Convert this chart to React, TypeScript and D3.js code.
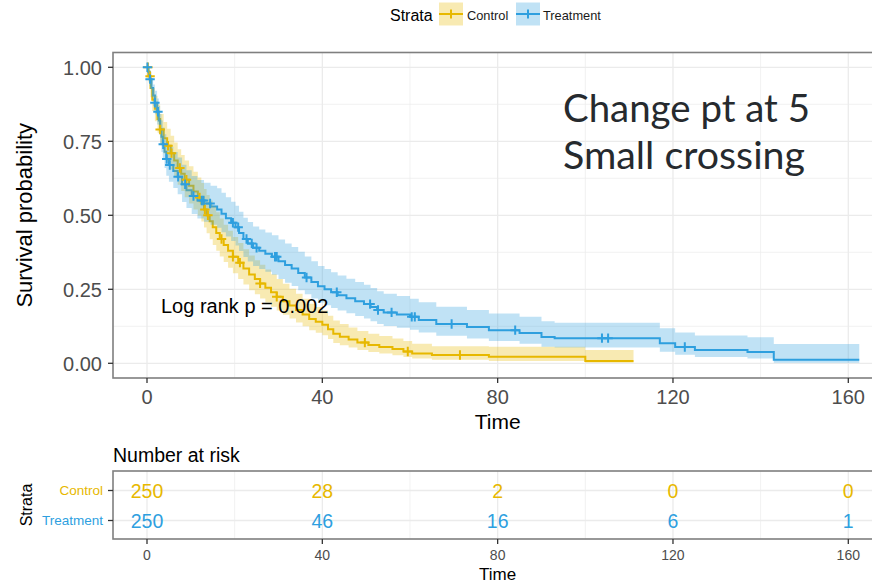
import React from "react";
import * as d3 from "d3";

const W = 872;
const H = 584;
const FONT = "'Liberation Sans', Arial, Helvetica, sans-serif";

// Kaplan–Meier steps: [time, survival, lower 95% CI, upper 95% CI]
const controlSteps: [number, number, number, number][] = [
  [0, 1.0, 1.0, 1.0],
  [0.3, 0.97, 0.949, 0.991],
  [0.8, 0.93, 0.899, 0.962],
  [1.2, 0.89, 0.852, 0.93],
  [1.8, 0.86, 0.818, 0.904],
  [2.4, 0.825, 0.779, 0.874],
  [3.0, 0.79, 0.741, 0.842],
  [3.8, 0.76, 0.709, 0.815],
  [4.6, 0.735, 0.682, 0.792],
  [5.4, 0.71, 0.655, 0.769],
  [6.2, 0.685, 0.629, 0.746],
  [7.0, 0.66, 0.603, 0.723],
  [7.8, 0.64, 0.582, 0.704],
  [8.6, 0.62, 0.561, 0.685],
  [9.6, 0.6, 0.54, 0.666],
  [10.6, 0.58, 0.52, 0.647],
  [11.6, 0.56, 0.499, 0.628],
  [12.4, 0.54, 0.479, 0.609],
  [13.0, 0.52, 0.459, 0.589],
  [13.6, 0.5, 0.439, 0.569],
  [14.3, 0.48, 0.419, 0.55],
  [15.0, 0.46, 0.4, 0.53],
  [15.8, 0.44, 0.38, 0.51],
  [16.6, 0.42, 0.361, 0.489],
  [17.5, 0.4, 0.342, 0.468],
  [18.5, 0.38, 0.323, 0.448],
  [19.6, 0.36, 0.304, 0.427],
  [20.8, 0.34, 0.285, 0.406],
  [22.0, 0.32, 0.266, 0.385],
  [23.3, 0.3, 0.247, 0.364],
  [24.6, 0.285, 0.233, 0.348],
  [25.8, 0.27, 0.219, 0.333],
  [27.0, 0.255, 0.205, 0.317],
  [28.3, 0.24, 0.191, 0.301],
  [29.6, 0.225, 0.178, 0.285],
  [31.0, 0.21, 0.164, 0.269],
  [32.5, 0.195, 0.151, 0.252],
  [34.0, 0.18, 0.138, 0.235],
  [35.5, 0.165, 0.125, 0.218],
  [37.0, 0.15, 0.112, 0.201],
  [38.5, 0.14, 0.103, 0.19],
  [40.0, 0.13, 0.095, 0.178],
  [41.3, 0.115, 0.082, 0.161],
  [42.5, 0.1, 0.069, 0.145],
  [44.0, 0.09, 0.061, 0.133],
  [46.0, 0.08, 0.053, 0.121],
  [48.0, 0.07, 0.045, 0.109],
  [50.5, 0.062, 0.038, 0.1],
  [53.0, 0.055, 0.033, 0.092],
  [56.0, 0.048, 0.027, 0.084],
  [58.5, 0.04, 0.021, 0.075],
  [60.5, 0.033, 0.016, 0.066],
  [65.0, 0.028, 0.012, 0.058],
  [78.0, 0.022, 0.008, 0.056],
  [100.0, 0.008, 0.002, 0.045],
];
const controlEnd = 111;

const treatmentSteps: [number, number, number, number][] = [
  [0, 1.0, 1.0, 1.0],
  [0.3, 0.985, 0.97, 1.0],
  [0.6, 0.96, 0.936, 0.985],
  [1.0, 0.93, 0.899, 0.962],
  [1.4, 0.905, 0.869, 0.942],
  [1.8, 0.88, 0.841, 0.921],
  [2.3, 0.85, 0.807, 0.895],
  [2.7, 0.82, 0.774, 0.869],
  [3.0, 0.79, 0.741, 0.842],
  [3.3, 0.765, 0.714, 0.82],
  [3.6, 0.74, 0.687, 0.797],
  [4.0, 0.715, 0.66, 0.774],
  [4.4, 0.69, 0.634, 0.751],
  [5.0, 0.67, 0.613, 0.732],
  [6.0, 0.65, 0.592, 0.714],
  [7.0, 0.63, 0.571, 0.695],
  [8.0, 0.605, 0.545, 0.671],
  [9.0, 0.585, 0.525, 0.652],
  [10.2, 0.565, 0.504, 0.633],
  [11.5, 0.55, 0.489, 0.619],
  [13.0, 0.54, 0.478, 0.61],
  [14.5, 0.53, 0.468, 0.6],
  [16.0, 0.52, 0.458, 0.591],
  [17.0, 0.505, 0.443, 0.576],
  [18.0, 0.49, 0.428, 0.561],
  [19.2, 0.475, 0.413, 0.546],
  [20.2, 0.46, 0.398, 0.532],
  [21.0, 0.44, 0.379, 0.512],
  [22.0, 0.42, 0.359, 0.492],
  [23.0, 0.405, 0.344, 0.477],
  [24.2, 0.39, 0.329, 0.462],
  [25.6, 0.38, 0.319, 0.452],
  [27.0, 0.37, 0.309, 0.442],
  [28.5, 0.36, 0.299, 0.433],
  [30.0, 0.345, 0.285, 0.418],
  [31.5, 0.332, 0.272, 0.405],
  [33.0, 0.32, 0.261, 0.393],
  [34.5, 0.305, 0.247, 0.377],
  [36.0, 0.29, 0.233, 0.361],
  [37.5, 0.275, 0.219, 0.345],
  [39.0, 0.26, 0.205, 0.329],
  [40.5, 0.25, 0.196, 0.319],
  [42.0, 0.24, 0.187, 0.308],
  [43.5, 0.23, 0.178, 0.297],
  [45.5, 0.22, 0.169, 0.286],
  [47.5, 0.21, 0.16, 0.275],
  [49.5, 0.2, 0.151, 0.265],
  [51.0, 0.19, 0.142, 0.254],
  [52.5, 0.18, 0.133, 0.243],
  [54.0, 0.172, 0.126, 0.235],
  [57.0, 0.165, 0.12, 0.227],
  [60.0, 0.157, 0.113, 0.218],
  [62.0, 0.146, 0.104, 0.206],
  [66.0, 0.133, 0.093, 0.191],
  [73.0, 0.123, 0.084, 0.18],
  [78.0, 0.112, 0.075, 0.168],
  [85.0, 0.102, 0.066, 0.157],
  [90.0, 0.089, 0.056, 0.142],
  [93.0, 0.085, 0.053, 0.137],
  [117.0, 0.068, 0.039, 0.118],
  [120.5, 0.055, 0.029, 0.104],
  [125.0, 0.045, 0.021, 0.094],
  [137.0, 0.038, 0.016, 0.088],
  [143.0, 0.012, 0.002, 0.065],
];
const treatmentEnd = 162.5;

// Censoring times
const controlCensor = [
  0.2, 0.7, 3.0, 4.8, 5.6, 7.5, 9.0, 12.0, 13.2, 13.9, 17.0, 19.6, 21.2, 25.8,
  29.6, 49.7, 59.5, 71.4,
];
const treatmentCensor = [
  0.1, 0.7, 1.8, 2.5, 3.7, 4.5, 5.2, 7.1, 8.7, 10.6, 12.5, 12.9, 14.4, 19.6,
  20.8, 22.7, 23.9, 25.0, 29.2, 29.6, 36.4, 43.3, 50.9, 52.7, 55.8, 60.4, 61.1,
  69.5, 84.0, 103.8, 105.2, 122.7,
];

// Number at risk table
const riskTimes = [0, 40, 80, 120, 160];
const controlRisk = [250, 28, 2, 0, 0];
const treatmentRisk = [250, 46, 16, 6, 1];

const strata = ["Control", "Treatment"];
const strataColors = ["#E7B800", "#2E9FDF"];
const xTicks = [0, 40, 80, 120, 160];
const xMinor = [20, 60, 100, 140];
const yTicks = [0, 0.25, 0.5, 0.75, 1];
const yMinor = [0.125, 0.375, 0.625, 0.875];
const pValueLabel = "Log rank p = 0.002";
const noteLines = ["Change pt at 5", "Small crossing"];
const noteWidths = [247, 242];

// Layout
const panel = { left: 113, right: 895, top: 52.5, bottom: 378 };
const table = { left: 113, right: 895, top: 471, bottom: 539 };

const x = d3.scaleLinear().domain([0, 160]).range([147, 848.3]);
const y = d3.scaleLinear().domain([0, 1]).range([363.3, 67.3]);
const row = d3.scalePoint<string>().domain(strata).range([490.5, 520.5]);

type Step = [number, number, number, number];

function withEnd(steps: Step[], end: number): Step[] {
  const last = steps[steps.length - 1];
  return [...steps, [end, last[1], last[2], last[3]]];
}

function survAt(steps: Step[], t: number): number {
  const i = d3.bisector((d: Step) => d[0]).right(steps, t) - 1;
  return steps[Math.max(0, i)][1];
}

const line = d3
  .line<Step>()
  .x((d) => x(d[0]))
  .y((d) => y(d[1]))
  .curve(d3.curveStepAfter);

const band = d3
  .area<Step>()
  .x((d) => x(d[0]))
  .y0((d) => y(d[2]))
  .y1((d) => y(d[3]))
  .curve(d3.curveStepAfter);

const groups = [
  { name: strata[0], color: strataColors[0], steps: withEnd(controlSteps, controlEnd), raw: controlSteps, censor: controlCensor, risk: controlRisk },
  { name: strata[1], color: strataColors[1], steps: withEnd(treatmentSteps, treatmentEnd), raw: treatmentSteps, censor: treatmentCensor, risk: treatmentRisk },
];

const GRID = "#EBEBEB";
const BORDER = "#7F7F7F";
const TICK = "#333333";
const TICKLAB = "#4D4D4D";

function Plus({ cx, cy, color, r = 4.7 }: { cx: number; cy: number; color: string; r?: number }) {
  return (
    <path
      d={`M${cx - r},${cy}H${cx + r}M${cx},${cy - r}V${cy + r}`}
      stroke={color}
      strokeWidth={2}
      fill="none"
    />
  );
}

export default function App() {
  const legendItems = [
    { label: strata[0], color: strataColors[0], keyX: 439, textX: 467 },
    { label: strata[1], color: strataColors[1], keyX: 516, textX: 543 },
  ];
  return (
    <svg
      width={W}
      height={H}
      viewBox={`0 0 ${W} ${H}`}
      style={{ position: "absolute", left: 0, top: 0, background: "#fff" }}
      fontFamily={FONT}
    >
      <rect width={W} height={H} fill="#fff" />

      {/* Legend */}
      <text x={390} y={20.5} fontSize={16} fill="#000">Strata</text>
      {legendItems.map((it) => (
        <g key={it.label}>
          <rect x={it.keyX} y={2.5} width={24} height={23} fill={it.color} fillOpacity={0.3} />
          <line x1={it.keyX} x2={it.keyX + 24} y1={14} y2={14} stroke={it.color} strokeWidth={2} />
          <line x1={it.keyX + 12} x2={it.keyX + 12} y1={9.5} y2={18.5} stroke={it.color} strokeWidth={2} />
          <text x={it.textX} y={19.5} fontSize={12.8} fill="#1a1a1a">{it.label}</text>
        </g>
      ))}

      {/* Main panel grid */}
      <g>
        {xMinor.map((t) => (
          <line key={"xm" + t} x1={x(t)} x2={x(t)} y1={panel.top} y2={panel.bottom} stroke={GRID} strokeWidth={0.7} />
        ))}
        {yMinor.map((v) => (
          <line key={"ym" + v} x1={panel.left} x2={panel.right} y1={y(v)} y2={y(v)} stroke={GRID} strokeWidth={0.7} />
        ))}
        {xTicks.map((t) => (
          <line key={"xg" + t} x1={x(t)} x2={x(t)} y1={panel.top} y2={panel.bottom} stroke={GRID} strokeWidth={1.3} />
        ))}
        {yTicks.map((v) => (
          <line key={"yg" + v} x1={panel.left} x2={panel.right} y1={y(v)} y2={y(v)} stroke={GRID} strokeWidth={1.3} />
        ))}
      </g>

      {/* Survival curves: steps, confidence ribbons, censoring marks */}
      <g clipPath="url(#mainClip)">
        {groups.map((g) => (
          <path key={"l" + g.name} d={line(g.steps) || ""} fill="none" stroke={g.color} strokeWidth={2} />
        ))}
        {groups.map((g) => (
          <path key={"b" + g.name} d={band(g.steps) || ""} fill={g.color} fillOpacity={0.3} stroke="none" />
        ))}
        {groups.map((g) => (
          <g key={"c" + g.name}>
            {g.censor.map((t, i) => (
              <Plus key={i} cx={x(t)} cy={y(survAt(g.raw, t))} color={g.color} />
            ))}
          </g>
        ))}
      </g>
      <defs>
        <clipPath id="mainClip">
          <rect x={panel.left} y={panel.top} width={panel.right - panel.left} height={panel.bottom - panel.top} />
        </clipPath>
      </defs>

      {/* Annotations */}
      <text x={161} y={313} fontSize={20} fill="#000">{pValueLabel}</text>
      {noteLines.map((s, i) => (
        <text
          key={s}
          x={563}
          y={122 + i * 47}
          fontSize={38.5}
          fontFamily="Lato, 'Open Sans', sans-serif"
          fill="#262A2E"
          textLength={noteWidths[i]}
          lengthAdjust="spacingAndGlyphs"
        >
          {s}
        </text>
      ))}

      {/* Main panel border */}
      <rect
        x={panel.left}
        y={panel.top}
        width={panel.right - panel.left}
        height={panel.bottom - panel.top}
        fill="none"
        stroke={BORDER}
        strokeWidth={1.6}
      />

      {/* Y axis */}
      {yTicks.map((v) => (
        <g key={"yt" + v}>
          <line x1={panel.left - 5} x2={panel.left} y1={y(v)} y2={y(v)} stroke={TICK} strokeWidth={1.3} />
          <text x={102} y={y(v)} dy="0.36em" textAnchor="end" fontSize={20} fill={TICKLAB}>
            {v.toFixed(2)}
          </text>
        </g>
      ))}
      <text
        transform={`translate(32,${(panel.top + panel.bottom) / 2}) rotate(-90)`}
        textAnchor="middle"
        fontSize={22}
        fill="#000"
      >
        Survival probability
      </text>

      {/* X axis */}
      {xTicks.map((t) => (
        <g key={"xt" + t}>
          <line x1={x(t)} x2={x(t)} y1={panel.bottom} y2={panel.bottom + 5} stroke={TICK} strokeWidth={1.3} />
          <text x={x(t)} y={404} textAnchor="middle" fontSize={20} fill={TICKLAB}>
            {t}
          </text>
        </g>
      ))}
      <text x={(x(0) + x(160)) / 2} y={429} textAnchor="middle" fontSize={21} fill="#000">
        Time
      </text>

      {/* Risk table */}
      <text x={113} y={462} fontSize={19.5} fill="#000">Number at risk</text>
      <g>
        {xMinor.map((t) => (
          <line key={"txm" + t} x1={x(t)} x2={x(t)} y1={table.top} y2={table.bottom} stroke={GRID} strokeWidth={0.7} />
        ))}
        {xTicks.map((t) => (
          <line key={"txg" + t} x1={x(t)} x2={x(t)} y1={table.top} y2={table.bottom} stroke={GRID} strokeWidth={1.3} />
        ))}
        {strata.map((s) => (
          <line key={"tyg" + s} x1={table.left} x2={table.right} y1={row(s)!} y2={row(s)!} stroke={GRID} strokeWidth={1.3} />
        ))}
      </g>
      {groups.map((g) => (
        <g key={"r" + g.name}>
          {riskTimes.map((t, i) => (
            <text
              key={t}
              x={x(t)}
              y={row(g.name)!}
              dy="0.36em"
              textAnchor="middle"
              fontSize={19.5}
              fill={g.color}
            >
              {g.risk[i]}
            </text>
          ))}
        </g>
      ))}
      <rect
        x={table.left}
        y={table.top}
        width={table.right - table.left}
        height={table.bottom - table.top}
        fill="none"
        stroke={BORDER}
        strokeWidth={1.6}
      />
      {groups.map((g) => (
        <g key={"rl" + g.name}>
          <line x1={table.left - 5} x2={table.left} y1={row(g.name)!} y2={row(g.name)!} stroke={TICK} strokeWidth={1.3} />
          <text x={103} y={row(g.name)!} dy="0.36em" textAnchor="end" fontSize={13.5} fill={g.color}>
            {g.name}
          </text>
        </g>
      ))}
      <text
        transform={`translate(32,${(table.top + table.bottom) / 2}) rotate(-90)`}
        textAnchor="middle"
        fontSize={16}
        fill="#000"
      >
        Strata
      </text>
      {xTicks.map((t) => (
        <g key={"txt" + t}>
          <line x1={x(t)} x2={x(t)} y1={table.bottom} y2={table.bottom + 5} stroke={TICK} strokeWidth={1.3} />
          <text x={x(t)} y={560} textAnchor="middle" fontSize={14} fill={TICKLAB}>
            {t}
          </text>
        </g>
      ))}
      <text x={(x(0) + x(160)) / 2} y={580} textAnchor="middle" fontSize={17} fill="#000">
        Time
      </text>
    </svg>
  );
}
